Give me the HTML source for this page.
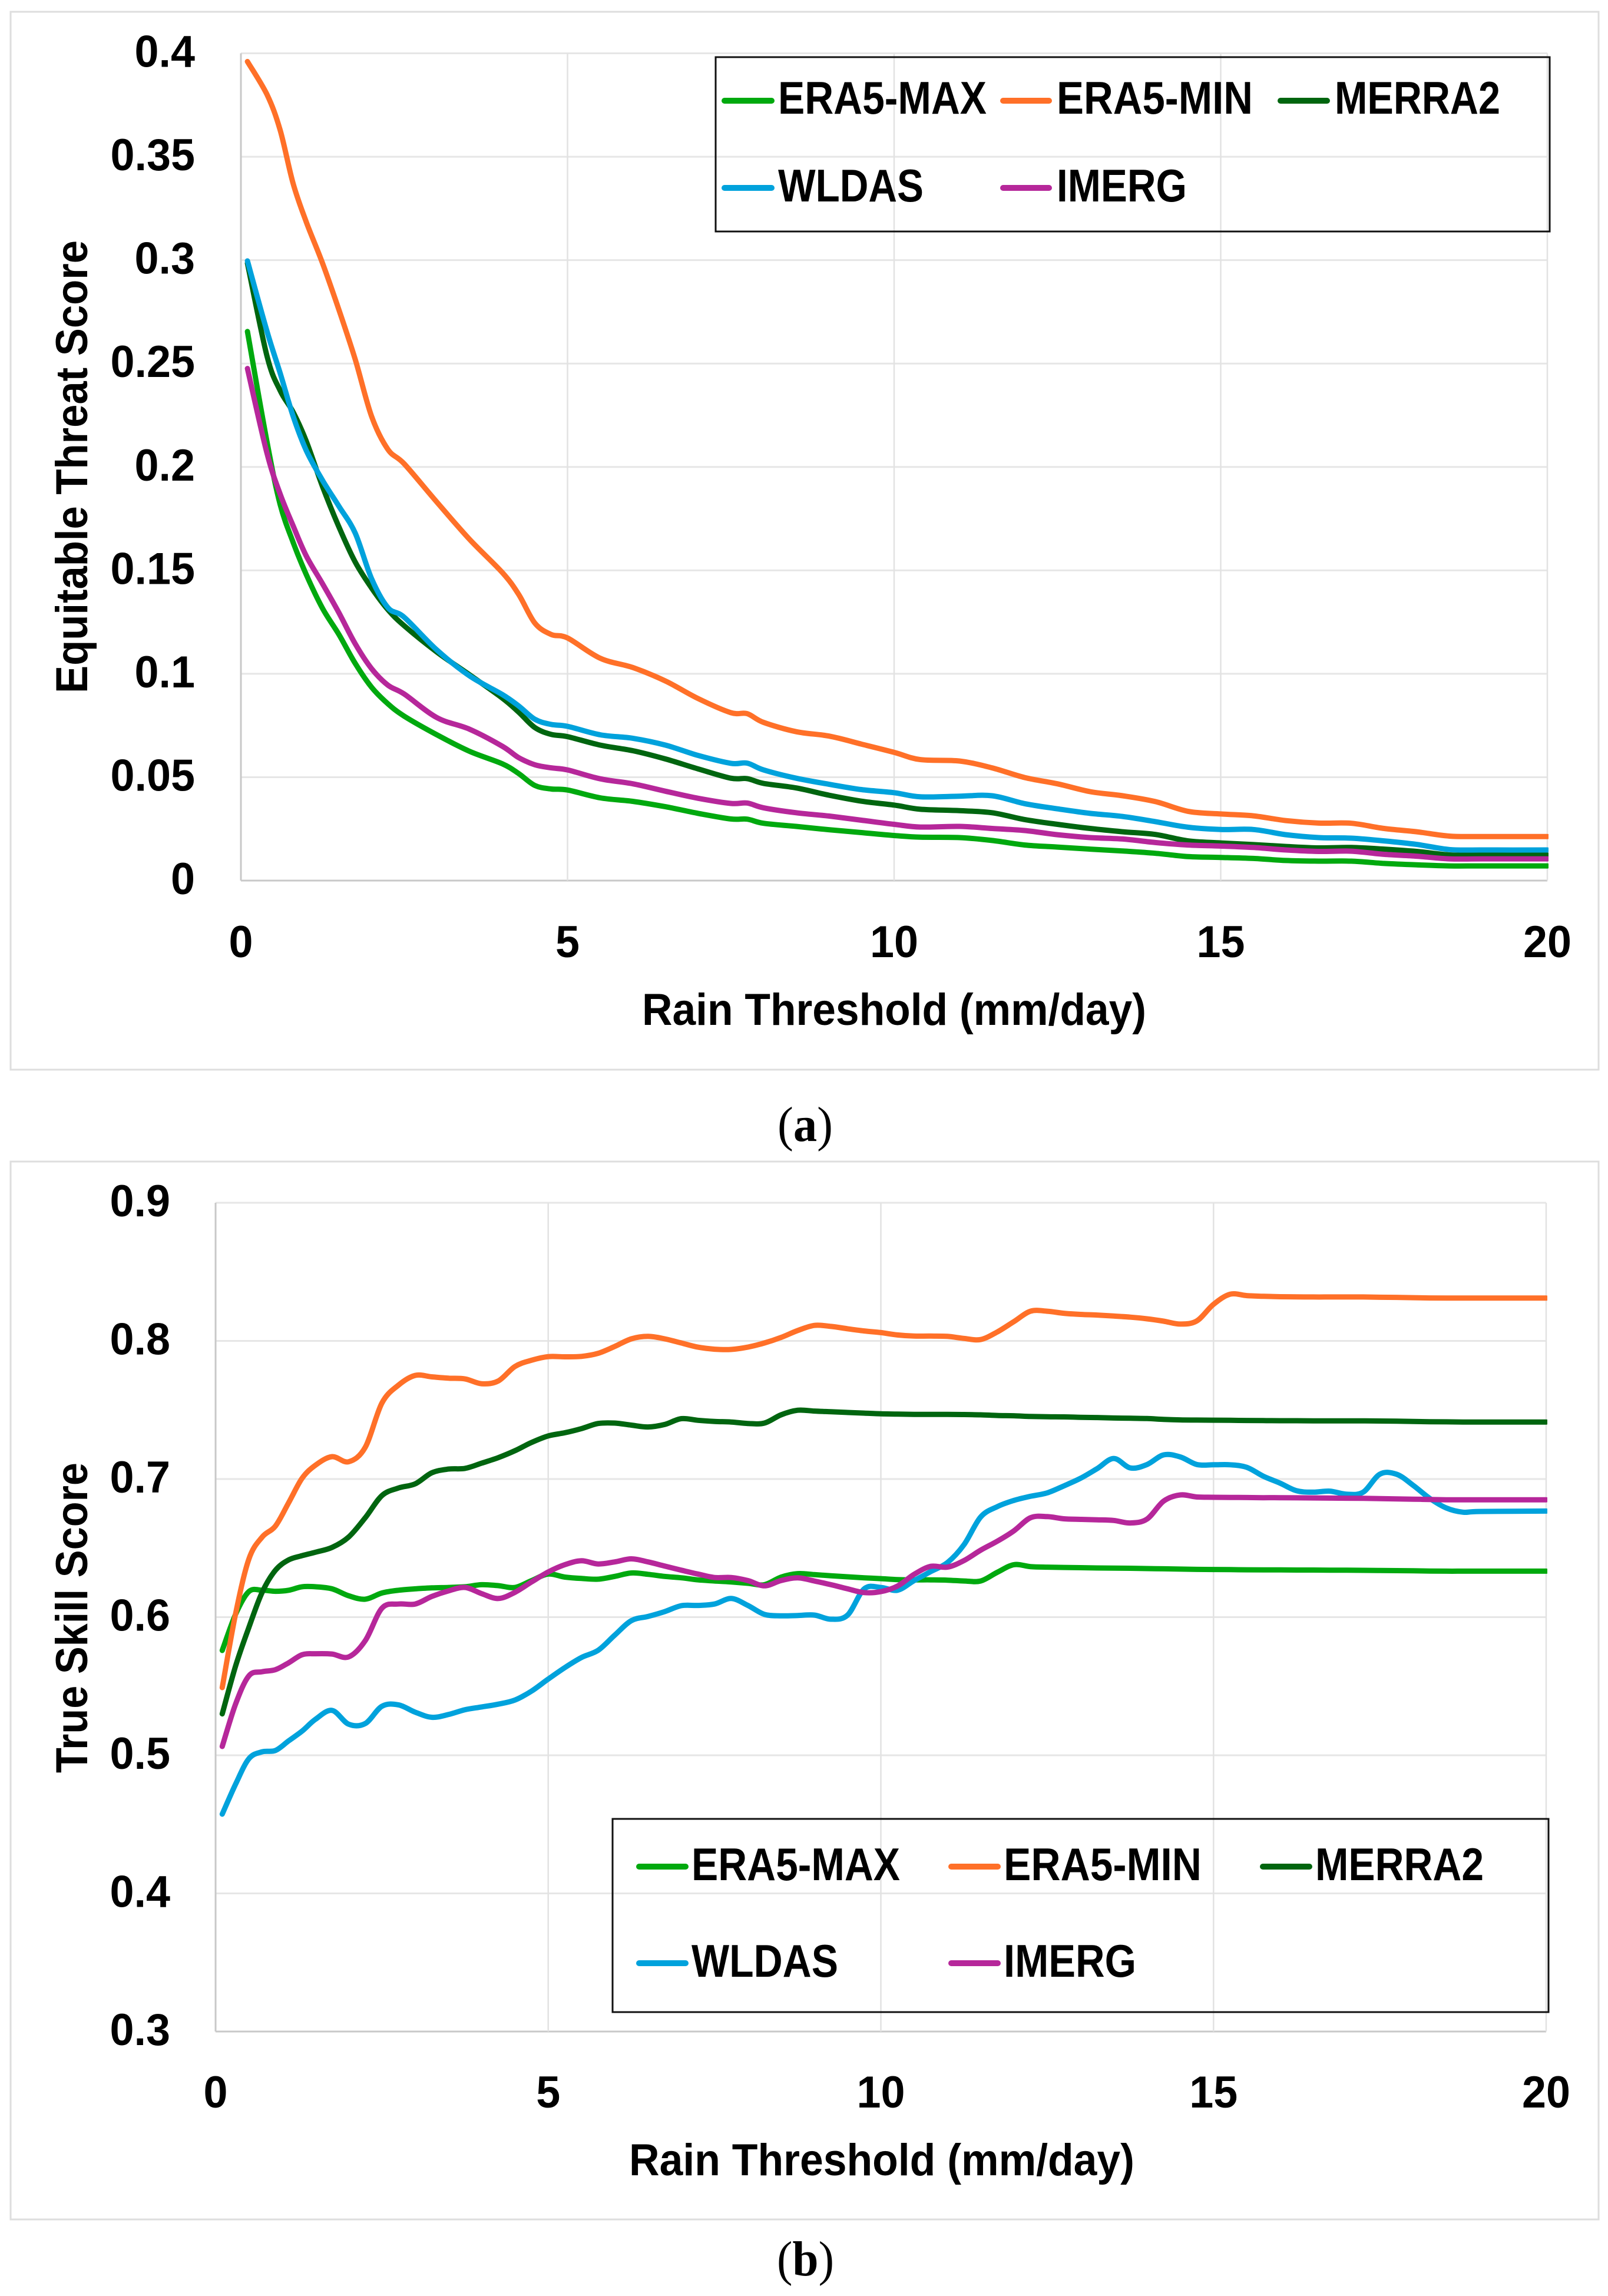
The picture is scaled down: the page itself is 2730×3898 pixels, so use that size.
<!DOCTYPE html>
<html lang="en">
<head>
<meta charset="utf-8">
<title>Equitable Threat Score and True Skill Score versus Rain Threshold</title>
<style>
html,body{margin:0;padding:0;background:#fff;}
svg{display:block;}
text{font-family:"Liberation Sans",Arial,sans-serif;font-weight:700;fill:#000;}
.caption{font-family:"Liberation Serif","Times New Roman",serif;font-weight:400;font-size:84px;}
.caption tspan{font-weight:700;}
.tick{font-size:76px;}
.title{font-size:76px;}
.leg{font-size:78px;}
</style>
</head>
<body>
<svg id="figure" xmlns="http://www.w3.org/2000/svg" width="2730" height="3898" viewBox="0 0 2730 3898">
  <rect x="0" y="0" width="2730" height="3898" fill="#ffffff"/>
  <defs>
    <clipPath id="clipA"><rect x="400" y="60" width="2229" height="1450"/></clipPath>
    <clipPath id="clipB"><rect x="360" y="2020" width="2267" height="1440"/></clipPath>
  </defs>

  <g id="panelA">
    <rect x="18" y="20" width="2696" height="1796" fill="#fff" stroke="#dedede" stroke-width="3"/>
    <g id="gridA"></g>
    <g id="xTicksA"></g>
    <g id="yTicksA"></g>
    <g id="seriesA" clip-path="url(#clipA)"></g>
    <text class="title" x="1090" y="1740" textLength="856" lengthAdjust="spacingAndGlyphs">Rain Threshold (mm/day)</text>
    <text class="title" transform="translate(148 1177) rotate(-90)" x="0" y="0" textLength="769" lengthAdjust="spacingAndGlyphs">Equitable Threat Score</text>
    <g>
      <rect x="1215" y="97" width="1416" height="296" fill="none" stroke="#111" stroke-width="3"/>
      <line x1="1230" x2="1310" y1="171" y2="171" stroke="#00a90e" stroke-width="10" stroke-linecap="round"/>
      <text class="leg" x="1321" y="193" textLength="354" lengthAdjust="spacingAndGlyphs">ERA5-MAX</text>
      <line x1="1703" x2="1781" y1="171" y2="171" stroke="#ff7028" stroke-width="10" stroke-linecap="round"/>
      <text class="leg" x="1794" y="193" textLength="333" lengthAdjust="spacingAndGlyphs">ERA5-MIN</text>
      <line x1="2174" x2="2253" y1="171" y2="171" stroke="#00650f" stroke-width="10" stroke-linecap="round"/>
      <text class="leg" x="2266" y="193" textLength="281" lengthAdjust="spacingAndGlyphs">MERRA2</text>
      <line x1="1230" x2="1310" y1="319" y2="319" stroke="#00a2dc" stroke-width="10" stroke-linecap="round"/>
      <text class="leg" x="1321" y="342" textLength="247" lengthAdjust="spacingAndGlyphs">WLDAS</text>
      <line x1="1703" x2="1781" y1="319" y2="319" stroke="#b6279a" stroke-width="10" stroke-linecap="round"/>
      <text class="leg" x="1794" y="342" textLength="221" lengthAdjust="spacingAndGlyphs">IMERG</text>
    </g>
  </g>
  <text class="caption" x="1320" y="1937" textLength="94" lengthAdjust="spacingAndGlyphs">(<tspan>a</tspan>)</text>

  <g id="panelB">
    <rect x="18" y="1972" width="2696" height="1796" fill="#fff" stroke="#dedede" stroke-width="3"/>
    <g id="gridB"></g>
    <g id="xTicksB"></g>
    <g id="yTicksB"></g>
    <g id="seriesB" clip-path="url(#clipB)"></g>
    <text class="title" x="1068" y="3693" textLength="858" lengthAdjust="spacingAndGlyphs">Rain Threshold (mm/day)</text>
    <text class="title" transform="translate(148 3010) rotate(-90)" x="0" y="0" textLength="527" lengthAdjust="spacingAndGlyphs">True Skill Score</text>
    <g>
      <rect x="1040" y="3088" width="1589" height="328" fill="none" stroke="#111" stroke-width="3"/>
      <line x1="1085" x2="1164" y1="3169" y2="3169" stroke="#00a90e" stroke-width="10" stroke-linecap="round"/>
      <text class="leg" x="1174" y="3192" textLength="354" lengthAdjust="spacingAndGlyphs">ERA5-MAX</text>
      <line x1="1615" x2="1694" y1="3169" y2="3169" stroke="#ff7028" stroke-width="10" stroke-linecap="round"/>
      <text class="leg" x="1704" y="3192" textLength="336" lengthAdjust="spacingAndGlyphs">ERA5-MIN</text>
      <line x1="2144" x2="2223" y1="3169" y2="3169" stroke="#00650f" stroke-width="10" stroke-linecap="round"/>
      <text class="leg" x="2233" y="3192" textLength="286" lengthAdjust="spacingAndGlyphs">MERRA2</text>
      <line x1="1085" x2="1164" y1="3333" y2="3333" stroke="#00a2dc" stroke-width="10" stroke-linecap="round"/>
      <text class="leg" x="1174" y="3356" textLength="249" lengthAdjust="spacingAndGlyphs">WLDAS</text>
      <line x1="1615" x2="1694" y1="3333" y2="3333" stroke="#b6279a" stroke-width="10" stroke-linecap="round"/>
      <text class="leg" x="1704" y="3356" textLength="225" lengthAdjust="spacingAndGlyphs">IMERG</text>
    </g>
  </g>
  <text class="caption" x="1319" y="3863" textLength="97" lengthAdjust="spacingAndGlyphs">(<tspan>b</tspan>)</text>
</svg>

<script>
// ---------- Chart (a) data ----------
const thresholdsA = [0.1,0.4,0.6,0.8,1,1.25,1.5,1.75,2,2.25,2.5,3,3.5,4,4.25,4.5,4.75,5,5.5,6,6.5,7,7.5,7.75,8,8.5,9,9.5,10,10.4,11,11.5,12,12.5,13,13.5,14,14.5,15,15.5,16,16.5,17,17.5,18,18.5,19,20];
const etsEra5Max = [0.2655,0.212,0.182,0.1635,0.148,0.1316,0.119,0.105,0.0935,0.0855,0.0795,0.0705,0.0625,0.0565,0.0518,0.046,0.0443,0.0438,0.04,0.0383,0.0357,0.0325,0.0298,0.0297,0.0277,0.0262,0.0246,0.0232,0.0218,0.021,0.0208,0.0194,0.0172,0.0162,0.0152,0.0143,0.0132,0.0116,0.0112,0.0107,0.0097,0.0094,0.0094,0.0083,0.0076,0.0071,0.0071,0.0071];
const etsEra5Min = [0.396,0.38,0.363,0.337,0.3185,0.2985,0.276,0.252,0.2245,0.2085,0.2015,0.183,0.165,0.149,0.1385,0.1245,0.119,0.1173,0.1075,0.103,0.0965,0.088,0.0812,0.0807,0.0765,0.072,0.0699,0.066,0.062,0.0585,0.0578,0.0545,0.0498,0.0468,0.043,0.041,0.0382,0.0335,0.0322,0.0313,0.029,0.0278,0.0277,0.0252,0.0236,0.0215,0.0213,0.0213];
const etsMerra2 = [0.2985,0.2535,0.237,0.2265,0.2125,0.1905,0.171,0.154,0.1415,0.131,0.1232,0.1105,0.0995,0.0883,0.0815,0.074,0.0707,0.0696,0.0655,0.0628,0.0588,0.054,0.0495,0.0493,0.047,0.0448,0.0413,0.0384,0.0365,0.0345,0.0338,0.0328,0.0295,0.0272,0.0252,0.0236,0.0223,0.0192,0.0182,0.0174,0.0165,0.0158,0.016,0.0152,0.0141,0.0124,0.0123,0.0123];
const etsWldas = [0.2996,0.2655,0.2455,0.2245,0.208,0.1935,0.181,0.168,0.146,0.132,0.1273,0.1115,0.099,0.09,0.0845,0.078,0.0755,0.0746,0.0705,0.0688,0.0655,0.0605,0.0567,0.0568,0.0535,0.0495,0.0466,0.044,0.0425,0.0405,0.0408,0.041,0.0372,0.0347,0.0325,0.031,0.0285,0.0258,0.0247,0.0247,0.0222,0.0208,0.0205,0.0192,0.0175,0.015,0.0148,0.0148];
const etsImerg = [0.2476,0.2065,0.187,0.1715,0.157,0.1435,0.1295,0.1145,0.1025,0.0945,0.0902,0.0788,0.0732,0.065,0.0595,0.056,0.0545,0.0535,0.0492,0.0468,0.0432,0.0398,0.0373,0.0375,0.0352,0.0328,0.0312,0.0292,0.0272,0.0259,0.0262,0.0252,0.0242,0.0222,0.0208,0.0201,0.0184,0.0172,0.0167,0.016,0.0148,0.0141,0.0142,0.0127,0.0118,0.0105,0.0105,0.0105];
const xTickValuesA = [0,5,10,15,20];
const yTickValuesA = [0,0.05,0.1,0.15,0.2,0.25,0.3,0.35,0.4];
const yTickLabelsA = ["0","0.05","0.1","0.15","0.2","0.25","0.3","0.35","0.4"];

// ---------- Chart (b) data ----------
const thresholdsB = [0.1,0.3,0.5,0.7,0.9,1.1,1.3,1.5,1.75,2,2.25,2.5,2.75,3,3.25,3.5,3.75,4,4.25,4.5,4.75,5,5.25,5.5,5.75,6,6.25,6.5,6.75,7,7.25,7.5,7.75,8,8.25,8.5,8.75,9,9.25,9.5,9.75,10,10.25,10.5,10.75,11,11.25,11.5,11.75,12,12.25,12.5,12.75,13,13.25,13.5,13.75,14,14.25,14.5,14.75,15,15.25,15.5,15.75,16,16.25,16.5,16.75,17,17.25,17.5,17.75,18,18.25,18.5,18.75,19,20];
const tssEra5Max = [0.5759,0.602,0.6185,0.6195,0.6187,0.6195,0.622,0.622,
  0.6205,
  0.6155,0.613,0.6175,0.6195,
  0.6205,0.6212,0.6215,0.622,
  0.6235,0.6228,0.6215,0.6265,
  0.6312,0.629,0.628,0.6275,
  0.6295,0.632,0.631,0.6295,
  0.6285,0.627,0.6262,0.6255,
  0.6245,0.6235,0.629,0.6315,
  0.6308,0.63,0.6292,0.6285,
  0.6279,0.6272,0.627,0.627,
  0.6268,0.6262,0.6262,0.6325,
  0.638,0.6366,0.6362,0.636,
  0.6358,0.6356,0.6355,0.6354,
  0.6352,0.635,0.6348,0.6346,
  0.6345,0.6344,0.6343,0.6342,
  0.6342,0.6341,0.6341,0.634,
  0.634,0.6339,0.6338,0.6337,
  0.6336,0.6334,0.6333,0.6333,
  0.6333,0.6333];
const tssEra5Min = [0.549,0.6023,0.642,0.658,0.666,0.683,0.7005,0.71,
  0.7162,
  0.7125,0.723,0.755,0.768,
  0.775,0.774,0.773,0.7725,
  0.769,0.771,0.7815,0.786,
  0.7886,0.7885,0.7888,0.791,
  0.796,0.8015,0.8033,0.8015,
  0.7985,0.7955,0.794,0.7938,
  0.7955,0.7985,0.8025,0.8075,
  0.8112,0.8105,0.8088,0.8072,
  0.806,0.8043,0.8035,0.8035,
  0.8033,0.8018,0.801,0.8065,
  0.814,0.8215,0.8215,0.82,
  0.8192,0.8187,0.818,0.8172,
  0.816,0.8143,0.8122,0.8145,
  0.8265,0.8338,0.8328,0.8323,
  0.832,0.8319,0.8318,0.8318,
  0.8318,0.8318,0.8316,0.8315,
  0.8313,0.8311,0.831,0.831,
  0.831,0.831];
const tssMerra2 = [0.53,0.5645,0.5925,0.618,0.634,0.6415,0.6445,0.647,
  0.6505,
  0.658,0.672,0.688,0.6935,
  0.6965,0.7045,0.7072,0.7077,
  0.7115,0.7155,0.7205,0.7265,
  0.7312,0.7335,0.7365,0.7402,
  0.7405,0.739,0.7377,0.7395,
  0.7437,0.7425,0.7417,0.7413,
  0.7402,0.7405,0.7465,0.7498,
  0.7492,0.7487,0.7482,0.7477,
  0.7472,0.747,0.7468,0.7468,
  0.7468,0.7467,0.7465,0.746,
  0.7458,0.7453,0.7451,0.745,
  0.7447,0.7445,0.7442,0.744,
  0.7438,0.7432,0.7428,0.7427,
  0.7426,0.7425,0.7424,0.7423,
  0.7422,0.7422,0.7421,0.7421,
  0.7421,0.7421,0.742,0.7419,
  0.7417,0.7415,0.7414,0.7413,
  0.7413,0.7413];
const tssWldas = [0.4574,0.479,0.4975,0.5025,0.5035,0.5105,0.5175,0.526,
  0.5325,
  0.5225,0.523,0.5355,0.5365,
  0.5312,0.5275,0.5295,0.533,
  0.535,0.537,0.54,0.5465,
  0.5552,0.5635,0.5708,0.576,
  0.587,0.5975,0.6005,0.604,
  0.6083,0.6085,0.6095,0.6135,
  0.6085,0.602,0.601,0.6012,
  0.6015,0.5985,0.6015,0.6205,
  0.6215,0.6195,0.6265,0.633,
  0.6395,0.6525,0.6725,0.68,
  0.6845,0.6875,0.69,0.695,
  0.7005,0.7075,0.7149,0.708,
  0.7105,0.7175,0.716,0.7105,
  0.7103,0.7103,0.7085,0.702,
  0.697,0.6915,0.6905,0.6912,
  0.689,0.6905,0.7035,0.7035,
  0.6955,0.686,0.679,0.676,
  0.6765,0.6768];
const tssImerg = [0.5064,0.537,0.5575,0.5605,0.562,0.567,0.5728,0.5735,
  0.5733,
  0.5712,0.583,0.6065,0.6095,
  0.6095,0.615,0.619,0.6215,
  0.617,0.6135,0.618,0.6255,
  0.6327,0.638,0.6408,0.6385,
  0.64,0.6422,0.64,0.637,
  0.634,0.6312,0.6287,0.6287,
  0.6265,0.6227,0.6265,0.6285,
  0.6262,0.6235,0.6205,0.6178,
  0.6185,0.6225,0.631,0.6368,
  0.6362,0.641,0.6485,0.655,
  0.6625,0.672,0.6728,0.6712,
  0.6708,0.6705,0.67,0.6682,
  0.671,0.684,0.6885,0.687,
  0.6868,0.6867,0.6866,0.6865,
  0.6865,0.6864,0.6863,0.6862,
  0.6861,0.686,0.6858,0.6856,
  0.6854,0.6852,0.685,0.685,
  0.685,0.685];
const xTickValuesB = [0,5,10,15,20];
const yTickValuesB = [0.3,0.4,0.5,0.6,0.7,0.8,0.9];
const yTickLabelsB = ["0.3","0.4","0.5","0.6","0.7","0.8","0.9"];

const seriesNames = ["era5-max","era5-min","merra2","wldas","imerg"];
const seriesColors = ["#00a90e","#ff7028","#00650f","#00a2dc","#b6279a"];

const SVGNS = "http://www.w3.org/2000/svg";

function squeeze(t) {
  const w = t.getComputedTextLength();
  t.setAttribute("textLength", (w * 0.97).toFixed(1));
  t.setAttribute("lengthAdjust", "spacingAndGlyphs");
}

function drawChart(opts) {
  const sx = function (v) { return opts.left + (v - 0) / 20 * (opts.right - opts.left); };
  const sy = function (v) { return opts.bottom - (v - opts.yMin) / (opts.yMax - opts.yMin) * (opts.bottom - opts.top); };
  const grid = document.getElementById(opts.gridId);
  const xGroup = document.getElementById(opts.xTicksId);
  const yGroup = document.getElementById(opts.yTicksId);
  const seriesGroup = document.getElementById(opts.seriesId);

  opts.yTicks.forEach(function (v, i) {
    const isBase = i === 0;
    const gl = document.createElementNS(SVGNS, "line");
    
    
    gl.setAttribute("x1", sx(0));
    gl.setAttribute("x2", sx(20));
    gl.setAttribute("y1", sy(v));
    gl.setAttribute("y2", sy(v));
    gl.setAttribute("stroke", isBase ? "#c8c8c8" : "#e6e6e6");
    gl.setAttribute("stroke-width", 3);
    grid.appendChild(gl);

    const t = document.createElementNS(SVGNS, "text");
    
    
    t.setAttribute("class", "tick");
    t.setAttribute("text-anchor", "end");
    t.setAttribute("x", opts.yLabelX);
    t.setAttribute("y", sy(v) + 23);
    t.textContent = opts.yLabels[i];
    yGroup.appendChild(t);
    squeeze(t);
  });

  opts.xTicks.forEach(function (v, i) {
    const isBase = i === 0;
    const gl = document.createElementNS(SVGNS, "line");
    
    
    gl.setAttribute("x1", sx(v));
    gl.setAttribute("x2", sx(v));
    gl.setAttribute("y1", sy(opts.yMax));
    gl.setAttribute("y2", sy(opts.yMin));
    gl.setAttribute("stroke", isBase ? "#c8c8c8" : "#e2e2e2");
    gl.setAttribute("stroke-width", isBase ? 3 : 2.5);
    grid.appendChild(gl);

    const t = document.createElementNS(SVGNS, "text");
    
    
    t.setAttribute("class", "tick");
    t.setAttribute("text-anchor", "middle");
    t.setAttribute("x", sx(v));
    t.setAttribute("y", opts.xLabelY);
    t.textContent = String(v);
    xGroup.appendChild(t);
    squeeze(t);
  });

  opts.series.forEach(function (vals, s) {
    const pts = vals.map(function (v, i) { return [sx(opts.xs[i]), sy(v)]; });
    let d = "M" + pts[0][0].toFixed(1) + " " + pts[0][1].toFixed(1);
    for (let i = 0; i < pts.length - 1; i++) {
      const p0 = pts[Math.max(i - 1, 0)];
      const p1 = pts[i];
      const p2 = pts[i + 1];
      const p3 = pts[Math.min(i + 2, pts.length - 1)];
      const c1x = p1[0] + (p2[0] - p0[0]) / 6;
      const c1y = p1[1] + (p2[1] - p0[1]) / 6;
      const c2x = p2[0] - (p3[0] - p1[0]) / 6;
      const c2y = p2[1] - (p3[1] - p1[1]) / 6;
      d += "C" + c1x.toFixed(1) + " " + c1y.toFixed(1) + " " + c2x.toFixed(1) + " " + c2y.toFixed(1) + " " + p2[0].toFixed(1) + " " + p2[1].toFixed(1);
    }
    const path = document.createElementNS(SVGNS, "path");
    
    
    path.setAttribute("data-series", seriesNames[s]);
    path.setAttribute("d", d);
    path.setAttribute("fill", "none");
    path.setAttribute("stroke", seriesColors[s]);
    path.setAttribute("stroke-width", 9);
    path.setAttribute("stroke-linecap", "round");
    path.setAttribute("stroke-linejoin", "round");
    seriesGroup.appendChild(path);
  });
}

drawChart({
  left: 409, right: 2627, top: 90.5, bottom: 1495,
  yMin: 0, yMax: 0.4,
  xs: thresholdsA,
  series: [etsEra5Max, etsEra5Min, etsMerra2, etsWldas, etsImerg],
  xTicks: xTickValuesA, yTicks: yTickValuesA, yLabels: yTickLabelsA,
  yLabelX: 331, xLabelY: 1625,
  gridId: "gridA", xTicksId: "xTicksA", yTicksId: "yTicksA", seriesId: "seriesA"
});

drawChart({
  left: 366, right: 2625, top: 2042, bottom: 3449,
  yMin: 0.3, yMax: 0.9,
  xs: thresholdsB,
  series: [tssEra5Max, tssEra5Min, tssMerra2, tssWldas, tssImerg],
  xTicks: xTickValuesB, yTicks: yTickValuesB, yLabels: yTickLabelsB,
  yLabelX: 289, xLabelY: 3578,
  gridId: "gridB", xTicksId: "xTicksB", yTicksId: "yTicksB", seriesId: "seriesB"
});
</script>
</body>
</html>
